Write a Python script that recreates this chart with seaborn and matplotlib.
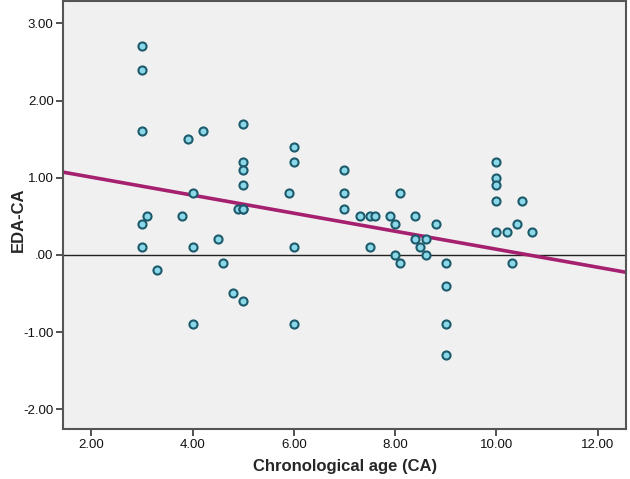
import matplotlib
matplotlib.use("Agg")
import matplotlib.pyplot as plt
from matplotlib.ticker import FuncFormatter
import numpy as np
import pandas as pd
import seaborn as sns

# Chronological age (CA) and EDA-CA difference
ca = [3.0, 3.0, 3.0, 3.0, 3.0, 3.1, 3.3, 3.8, 3.9, 4.0, 4.0, 4.0, 4.2,
      4.5, 4.6, 4.8, 4.9, 5.0, 5.0, 5.0, 5.0, 5.0, 5.0, 5.0,
      5.9, 6.0, 6.0, 6.0, 6.0,
      7.0, 7.0, 7.0, 7.3, 7.5, 7.5, 7.6, 7.9, 8.0, 8.0, 8.1, 8.1,
      8.4, 8.4, 8.5, 8.6, 8.6, 8.8,
      9.0, 9.0, 9.0, 9.0,
      10.0, 10.0, 10.0, 10.0, 10.0, 10.2, 10.3, 10.4, 10.5, 10.7]
eda_ca = [2.7, 2.4, 1.6, 0.4, 0.1, 0.5, -0.2, 0.5, 1.5, 0.8, 0.1, -0.9, 1.6,
          0.2, -0.1, -0.5, 0.6, 1.7, 1.2, 1.1, 0.9, 0.6, -0.6, 0.6,
          0.8, 1.4, 1.2, 0.1, -0.9,
          1.1, 0.8, 0.6, 0.5, 0.5, 0.1, 0.5, 0.5, 0.4, 0.0, 0.8, -0.1,
          0.5, 0.2, 0.1, 0.2, 0.0, 0.4,
          -0.1, -0.4, -0.9, -1.3,
          1.2, 1.0, 0.9, 0.7, 0.3, 0.3, -0.1, 0.4, 0.7, 0.3]

# fit line as drawn in the chart (intercept, slope)
fit_intercept = 1.24
fit_slope = -0.1167

x_lim = (1.447, 12.56)
y_lim = (-2.26, 3.29)
x_ticks = [2, 4, 6, 8, 10, 12]
y_ticks = [-2, -1, 0, 1, 2, 3]

df = pd.DataFrame({"ca": ca, "eda_ca": eda_ca})
fit_x = np.array(x_lim)
fit_df = pd.DataFrame({"ca": fit_x, "eda_ca": fit_intercept + fit_slope * fit_x})

sns.set_style("white")
plt.rcParams["font.family"] = ["Liberation Sans", "DejaVu Sans"]

fig = plt.figure(figsize=(6.3, 4.79), dpi=100)
ax = fig.add_axes([0.1005, 0.1038, 0.8932, 0.8942])
ax.set_facecolor("#f0f0f0")

ax.axhline(0, color="#222222", lw=1.0, zorder=1)

sns.lineplot(data=fit_df, x="ca", y="eda_ca", ax=ax, color="#a5206f",
             lw=2.6, zorder=2)
sns.scatterplot(data=df, x="ca", y="eda_ca", ax=ax, s=34, color="#8ad8e8",
                edgecolor="#1d5a6c", linewidth=1.5, zorder=3)

ax.set_xlim(*x_lim)
ax.set_ylim(*y_lim)
ax.set_xticks(x_ticks)
ax.set_yticks(y_ticks)

def fmt(v, pos):
    return ".00" if abs(v) < 1e-9 else f"{v:.2f}"

ax.xaxis.set_major_formatter(FuncFormatter(fmt))
ax.yaxis.set_major_formatter(FuncFormatter(fmt))

for sp in ax.spines.values():
    sp.set_color("#555555")
    sp.set_linewidth(1.5)

ax.tick_params(axis="both", direction="out", length=5, width=1.2,
               color="#333333", labelsize=9.5, labelcolor="#111111", pad=2,
               left=True, bottom=True)

ax.set_xlabel("Chronological age (CA)", fontsize=12, fontweight="bold",
              labelpad=6)
ax.set_ylabel("EDA-CA", fontsize=12, fontweight="bold")
ax.yaxis.set_label_coords(-0.067, 0.49)

fig.savefig("out.png", dpi=100)
